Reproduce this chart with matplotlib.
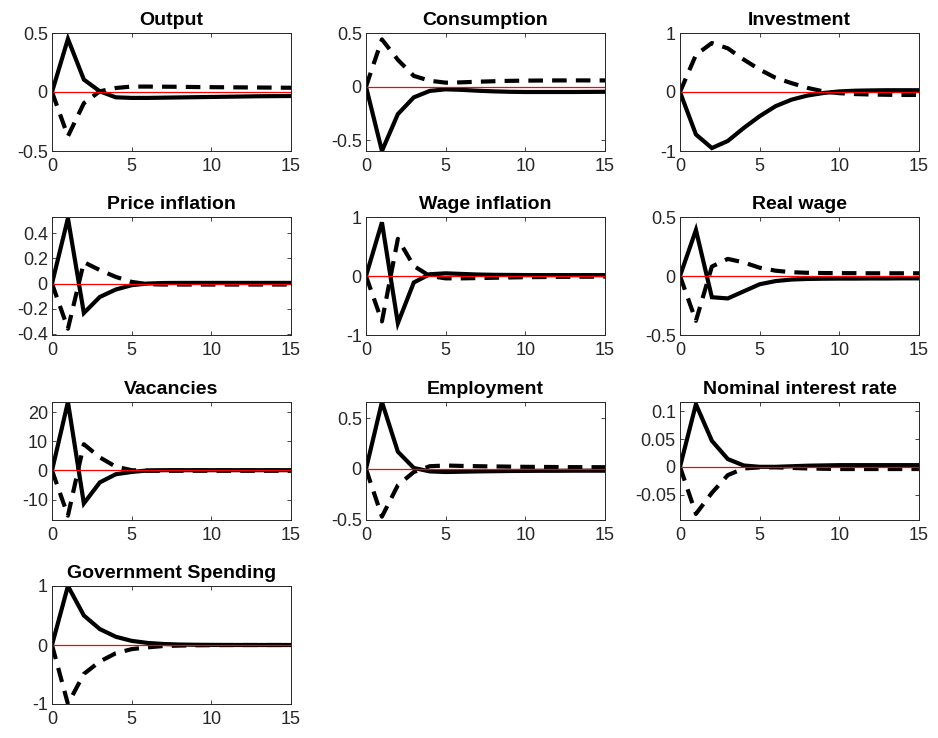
import matplotlib
matplotlib.use("Agg")
import matplotlib.pyplot as plt
from matplotlib.ticker import FuncFormatter

plt.rcParams["font.family"] = ["Liberation Sans", "DejaVu Sans"]
plt.rcParams["axes.unicode_minus"] = False

periods = list(range(16))

titles = [
    "Output", "Consumption", "Investment",
    "Price inflation", "Wage inflation", "Real wage",
    "Vacancies", "Employment", "Nominal interest rate",
    "Government Spending",
]

# impulse responses: solid = baseline, dashed = alternative
output_solid = [0, 0.45, 0.105, 0.006, -0.045, -0.05, -0.05, -0.048, -0.046, -0.044, -0.042, -0.04, -0.038, -0.036, -0.035, -0.034]
output_dashed = [0, -0.375, -0.095, 0.006, 0.034, 0.046, 0.046, 0.045, 0.044, 0.042, 0.041, 0.04, 0.039, 0.038, 0.037, 0.036]

cons_solid = [0, -0.6, -0.256, -0.10, -0.04, -0.025, -0.03, -0.038, -0.044, -0.048, -0.05, -0.05, -0.05, -0.05, -0.049, -0.048]
cons_dashed = [0, 0.44, 0.25, 0.10, 0.055, 0.037, 0.04, 0.046, 0.05, 0.054, 0.056, 0.057, 0.058, 0.058, 0.058, 0.058]

inv_solid = [0, -0.72, -0.95, -0.83, -0.61, -0.41, -0.24, -0.13, -0.06, -0.017, 0.01, 0.022, 0.027, 0.03, 0.03, 0.03]
inv_dashed = [0, 0.63, 0.83, 0.74, 0.55, 0.38, 0.24, 0.15, 0.07, 0.01, -0.02, -0.035, -0.043, -0.047, -0.05, -0.05]

pinf_solid = [0, 0.52, -0.235, -0.107, -0.048, -0.013, 0.0, 0.004, 0.005, 0.005, 0.005, 0.005, 0.005, 0.005, 0.005, 0.005]
pinf_dashed = [0, -0.36, 0.17, 0.107, 0.053, 0.013, -0.005, -0.008, -0.008, -0.008, -0.008, -0.008, -0.008, -0.008, -0.008, -0.008]

winf_solid = [0, 0.91, -0.8, -0.11, 0.03, 0.045, 0.035, 0.025, 0.02, 0.018, 0.016, 0.015, 0.015, 0.015, 0.015, 0.015]
winf_dashed = [0, -0.77, 0.63, 0.17, 0.0, -0.04, -0.04, -0.035, -0.03, -0.025, -0.02, -0.018, -0.015, -0.013, -0.012, -0.01]

rw_solid = [0, 0.39, -0.18, -0.19, -0.13, -0.07, -0.043, -0.03, -0.025, -0.023, -0.022, -0.022, -0.021, -0.021, -0.02, -0.02]
rw_dashed = [0, -0.38, 0.08, 0.145, 0.115, 0.07, 0.045, 0.032, 0.027, 0.025, 0.024, 0.024, 0.023, 0.023, 0.023, 0.023]

vac_solid = [0, 23.5, -11.3, -4.1, -1.3, -0.5, 0.0, 0.1, 0.1, 0.1, 0.1, 0.1, 0.1, 0.1, 0.1, 0.1]
vac_dashed = [0, -15.5, 9.0, 4.5, 1.3, 0.1, -0.1, -0.1, -0.1, -0.1, -0.1, -0.1, -0.1, -0.1, -0.1, -0.1]

emp_solid = [0, 0.66, 0.17, 0.01, -0.024, -0.03, -0.027, -0.024, -0.022, -0.02, -0.019, -0.018, -0.018, -0.017, -0.017, -0.017]
emp_dashed = [0, -0.47, -0.16, -0.03, 0.027, 0.034, 0.03, 0.027, 0.025, 0.023, 0.021, 0.02, 0.019, 0.018, 0.018, 0.017]

rate_solid = [0, 0.113, 0.047, 0.014, 0.0024, 0.0, 0.0, 0.001, 0.002, 0.0025, 0.003, 0.003, 0.003, 0.003, 0.003, 0.003]
rate_dashed = [0, -0.085, -0.047, -0.015, -0.003, -0.001, -0.001, -0.002, -0.003, -0.0035, -0.004, -0.004, -0.004, -0.004, -0.004, -0.004]

gov_solid = [0, 1.0, 0.5, 0.27, 0.14, 0.07, 0.035, 0.017, 0.008, 0.004, 0.002, 0.001, 0.0, 0.0, 0.0, 0.0]
gov_dashed = [0, -1.0, -0.49, -0.28, -0.14, -0.07, -0.04, -0.017, -0.01, -0.005, -0.003, -0.001, 0.0, 0.0, 0.0, 0.0]

solid_series = [output_solid, cons_solid, inv_solid, pinf_solid, winf_solid,
                rw_solid, vac_solid, emp_solid, rate_solid, gov_solid]
dashed_series = [output_dashed, cons_dashed, inv_dashed, pinf_dashed, winf_dashed,
                 rw_dashed, vac_dashed, emp_dashed, rate_dashed, gov_dashed]

y_limits = [(-0.5, 0.5), (-0.6, 0.5), (-1, 1),
            (-0.41, 0.53), (-1, 1), (-0.5, 0.5),
            (-17, 23.5), (-0.503, 0.66), (-0.096, 0.117),
            (-1, 1)]
y_ticks = [[-0.5, 0, 0.5], [-0.5, 0, 0.5], [-1, 0, 1],
           [-0.4, -0.2, 0, 0.2, 0.4], [-1, 0, 1], [-0.5, 0, 0.5],
           [-10, 0, 10, 20], [-0.5, 0, 0.5], [-0.05, 0, 0.05, 0.1],
           [-1, 0, 1]]
x_ticks = [0, 5, 10, 15]

fig = plt.figure(figsize=(9.38, 7.38), dpi=100)
W, H = 938.0, 738.0
col_left = [52, 366, 680]
row_top = [33, 217, 402, 586]
ax_w, ax_h = 239, 118

grey = (0.15, 0.15, 0.15)
fmt = FuncFormatter(lambda v, p: "%g" % v)

for i, title in enumerate(titles):
    r, c = divmod(i, 3)
    ax = fig.add_axes([col_left[c] / W, 1 - (row_top[r] + ax_h) / H, ax_w / W, ax_h / H])
    ax.plot(periods, solid_series[i], color="black", lw=3.0, solid_joinstyle="miter")
    ax.plot(periods, dashed_series[i], color="black", lw=3.0, dashes=(3.5, 2.2))
    ax.axhline(0, color="red", lw=0.9)
    ax.set_xlim(0, 15)
    ax.set_ylim(*y_limits[i])
    ax.set_xticks(x_ticks)
    ax.set_yticks(y_ticks[i])
    ax.xaxis.set_major_formatter(fmt)
    ax.yaxis.set_major_formatter(fmt)
    ax.tick_params(direction="in", length=3, width=0.6, colors=grey,
                   labelsize=13, top=True, right=True, pad=3)
    ax.tick_params(axis="x", pad=5)
    for s in ax.spines.values():
        s.set_color(grey)
        s.set_linewidth(0.7)
    ax.set_title(title, fontsize=14, fontweight="bold", pad=6)

fig.savefig("out.png", dpi=100)
